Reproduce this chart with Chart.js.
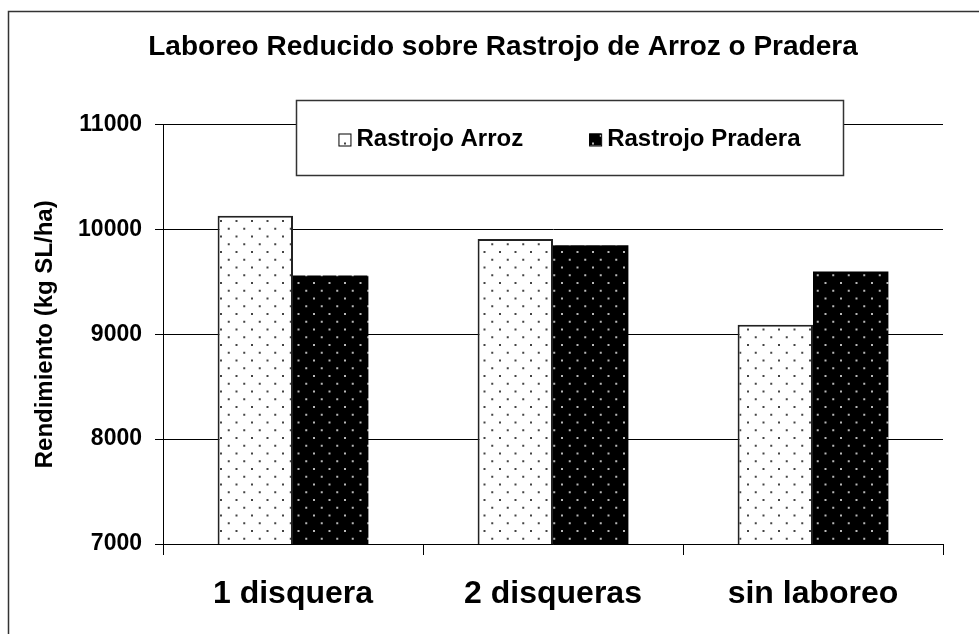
<!DOCTYPE html>
<html>
<head>
<meta charset="utf-8">
<script src="https://cdn.jsdelivr.net/npm/chart.js@4"></script>
<style>
  body { margin: 0; background: #fff; }
  canvas { display: block; }
</style>
</head>
<body>
<canvas id="chart" width="979" height="634"></canvas>
<script>
// data
const categories = ["1 disquera", "2 disqueras", "sin laboreo"];
const seriesNames = ["Rastrojo Arroz", "Rastrojo Pradera"];
const arroz = [10130, 9910, 9090];
const pradera = [9560, 9850, 9600];
const yTicks = [7000, 8000, 9000, 10000, 11000];

const FONT = '"Liberation Sans", Arial, sans-serif';

// dotted fill like the old office patterns
function dotPattern(bg, dot) {
  const c = document.createElement("canvas");
  c.width = 31; c.height = 31;
  const g = c.getContext("2d");
  g.fillStyle = bg;
  g.fillRect(0, 0, 31, 31);
  g.fillStyle = dot;
  for (let r = 0; r < 4; r++) {
    const y = r * 7.75;
    const off = (r % 2) ? 7.75 : 0;
    for (let k = 0; k < 2; k++) {
      g.fillRect(off + k * 15.5 + 3, y + 3, 2, 2);
    }
  }
  return g.createPattern(c, "repeat");
}

const ctx = document.getElementById("chart").getContext("2d");
const whiteDots = dotPattern("#ffffff", "#444444");
const blackDots = dotPattern("#000000", "#b8b8b8");

// frame around the whole chart (only left/top are visible)
const framePlugin = {
  id: "frame",
  beforeDraw(chart) {
    const c = chart.ctx;
    c.save();
    c.fillStyle = "#fff";
    c.fillRect(0, 0, chart.width, chart.height);
    c.strokeStyle = "#333";
    c.lineWidth = 1.5;
    c.strokeRect(8.5, 11.5, 1200, 1200);
    c.restore();
  }
};

// boxed legend sitting over the top of the plot
const boxLegend = {
  id: "boxLegend",
  afterDraw(chart) {
    const c = chart.ctx;
    const bx = 296, by = 100, bw = 547, bh = 75;
    c.save();
    c.fillStyle = "#fff";
    c.fillRect(bx, by, bw, bh);
    c.strokeStyle = "#333";
    c.lineWidth = 1.5;
    c.strokeRect(bx + 0.5, by + 0.5, bw, bh);
    c.font = "bold 24px " + FONT;
    c.textBaseline = "middle";
    const sq = 12, gap = 6, between = 66;
    const items = chart.data.datasets.map(ds => ({
      label: ds.label, fill: ds.backgroundColor,
      w: sq + gap + c.measureText(ds.label).width
    }));
    const total = items.reduce((s, it) => s + it.w, 0) + between * (items.length - 1);
    let x = bx + bw / 2 - total / 2;
    const cy = by + bh / 2 + 2;
    items.forEach(it => {
      c.fillStyle = it.fill;
      c.fillRect(x, cy - sq / 2, sq, sq);
      c.strokeStyle = "#000";
      c.lineWidth = 1;
      c.strokeRect(x + 0.5, cy - sq / 2 + 0.5, sq, sq);
      c.fillStyle = "#000";
      c.fillText(it.label, x + sq + gap, cy);
      x += it.w + between;
    });
    c.restore();
  }
};

new Chart(ctx, {
  type: "bar",
  data: {
    labels: categories,
    datasets: [
      {
        label: seriesNames[0],
        data: arroz,
        backgroundColor: whiteDots,
        borderColor: "#222",
        borderWidth: 2,
        borderSkipped: "bottom"
      },
      {
        label: seriesNames[1],
        data: pradera,
        backgroundColor: blackDots,
        borderWidth: 0
      }
    ]
  },
  options: {
    responsive: false,
    animation: false,
    layout: { padding: { left: 63, right: 36, top: 0, bottom: 0 } },
    datasets: { bar: { categoryPercentage: 0.58, barPercentage: 1.0 } },
    plugins: {
      legend: { display: false },
      tooltip: { enabled: false },
      title: {
        display: true,
        text: "Laboreo Reducido sobre Rastrojo de Arroz o Pradera",
        color: "#000",
        font: { family: FONT, size: 28, weight: "bold" },
        padding: { top: 30, bottom: 61 }
      }
    },
    scales: {
      x: {
        grid: { drawOnChartArea: false, offset: true, color: "#000", tickLength: 11 },
        border: { color: "#000", width: 1 },
        ticks: { color: "#000", font: { family: FONT, size: 32, weight: "bold" }, padding: 20 },
        afterFit(scale) { scale.height = 90; }
      },
      y: {
        min: yTicks[0],
        max: yTicks[yTicks.length - 1],
        afterBuildTicks(scale) { scale.ticks = yTicks.map(v => ({ value: v })); },
        grid: { color: "#000", tickLength: 8 },
        border: { color: "#000", width: 1 },
        ticks: {
          color: "#000",
          font: { family: FONT, size: 23, weight: "bold" },
          padding: 13,
          callback: v => String(v)
        },
        title: {
          display: true,
          text: "Rendimiento (kg SL/ha)",
          color: "#000",
          font: { family: FONT, size: 24, weight: "bold" },
          padding: { top: -32, bottom: 0 }
        },
        afterFit(scale) { scale.width = 100; }
      }
    }
  },
  plugins: [framePlugin, boxLegend]
});
</script>
</body>
</html>
